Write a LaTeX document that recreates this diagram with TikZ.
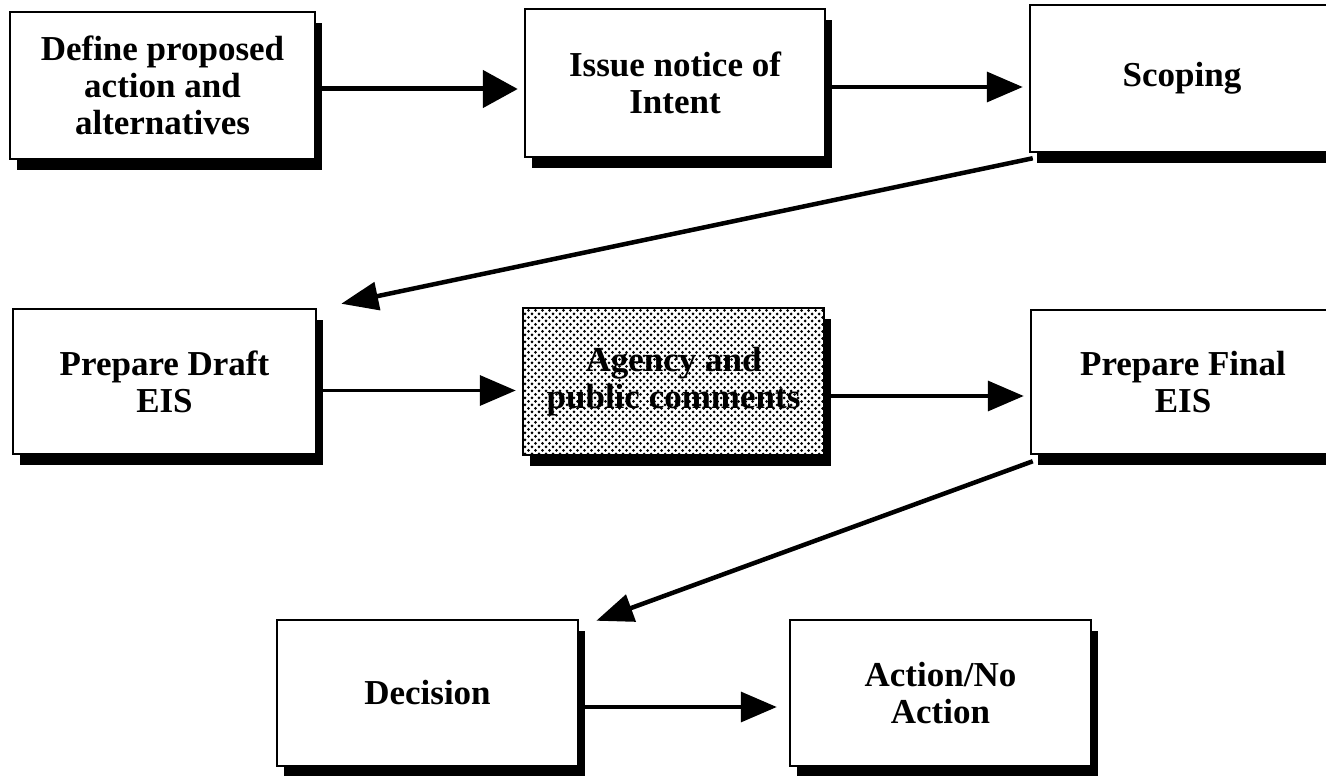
\documentclass[tikz,border=0pt]{standalone}
\usepackage{fontspec}
\setmainfont{Liberation Serif}
\usetikzlibrary{arrows.meta,shadows,patterns,calc}
\pgfdeclarepatternformonly{eisdots}{\pgfqpoint{-2pt}{-2pt}}{\pgfqpoint{5pt}{5pt}}{\pgfqpoint{7pt}{7pt}}{%
  \pgfpathcircle{\pgfqpoint{0pt}{0pt}}{1.5pt}%
  \pgfpathcircle{\pgfqpoint{3.5pt}{3.5pt}}{1.5pt}%
  \pgfusepath{fill}}
\begin{document}
\begin{tikzpicture}[x=1pt,y=-1pt,
  box/.style={draw, line width=2.5pt, fill=white, inner sep=0pt, align=center,
    font=\bfseries\fontsize{35}{37}\selectfont,
    drop shadow={shadow xshift=7pt, shadow yshift=-11pt, opacity=1, fill=black}},
  flow/.style={line width=3.5pt, -{Triangle[length=36pt,width=30pt]}, shorten >=6pt},
  diag/.style={line width=4.5pt, -{Triangle[length=37pt,width=28pt]}}
]
\useasboundingbox (0,0) rectangle (1326,776);
\fill[white] (0,0) rectangle (1326,776);

\node[box, minimum width=305pt, minimum height=147pt] (b1) at (162.5,85.5) {Define proposed\\action and\\alternatives};
\node[box, minimum width=300pt, minimum height=148pt] (b2) at (675,83) {Issue notice of\\Intent};
\node[box, minimum width=304pt, minimum height=147pt] (b3) at (1182,78.5) {Scoping};
\node[box, minimum width=303pt, minimum height=145pt] (b4) at (164.5,381.5) {Prepare Draft\\EIS};
\node[box, minimum width=301pt, minimum height=147pt, preaction={fill=white}, pattern=eisdots] (b5) at (673.5,381.5) {Agency and\\public comments};
\node[box, minimum width=304pt, minimum height=144pt] (b6) at (1183,382) {Prepare Final\\EIS};
\node[box, minimum width=301pt, minimum height=146pt] (b7) at (427.5,693) {Decision};
\node[box, minimum width=301pt, minimum height=146pt] (b8) at (940.5,693) {Action/No\\Action};

\draw[flow, line width=5pt, -{Triangle[length=35pt,width=37pt]}] ([yshift=-3.5pt]b1.east) -- ([yshift=-3.5pt]b1.east -| b2.west);
\draw[flow] ([yshift=-4pt]b2.east) -- ([yshift=-4pt]b2.east -| b3.west);
\draw[diag] ([xshift=4pt,yshift=-5pt]b3.south west) -- ([xshift=24pt,yshift=4pt]b4.north east);
\draw[flow] ([yshift=-9pt]b4.east) -- ([yshift=-9pt]b4.east -| b5.west);
\draw[flow] ([yshift=-14.5pt]b5.east) -- ([yshift=-14.5pt]b5.east -| b6.west);
\draw[diag] ([xshift=3pt,yshift=-6pt]b6.south west) -- ([xshift=17pt,yshift=-2pt]b7.north east);
\draw[flow, shorten >=12pt] ([yshift=-14pt]b7.east) -- ([yshift=-14pt]b7.east -| b8.west);
\end{tikzpicture}
\end{document}
